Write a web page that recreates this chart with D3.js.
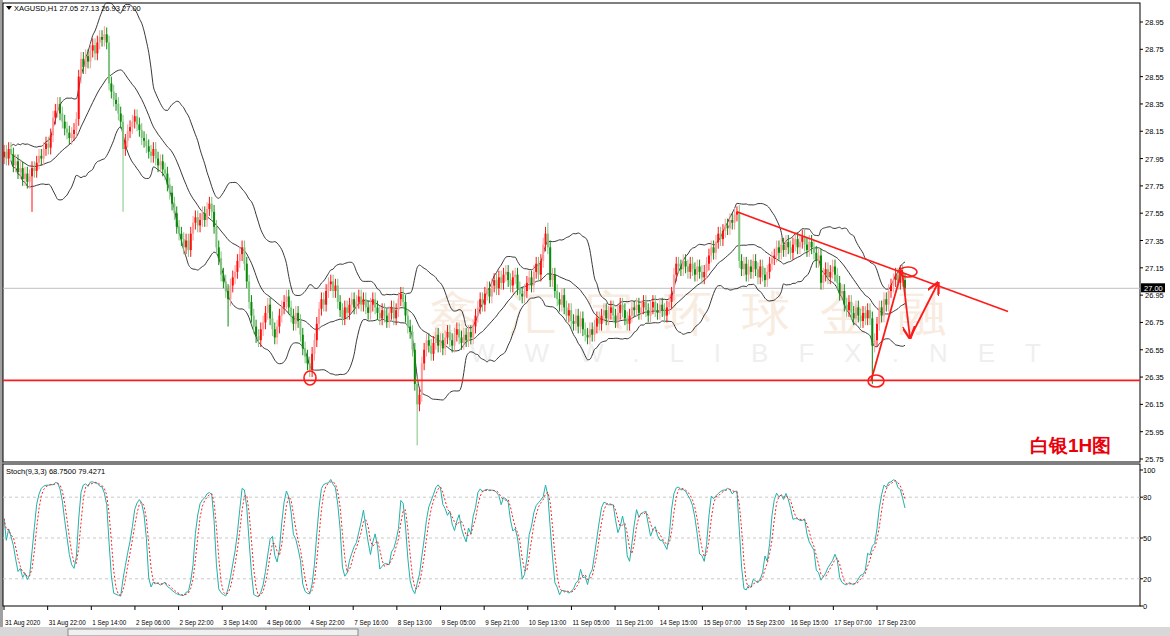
<!DOCTYPE html>
<html><head><meta charset="utf-8">
<script src="https://cdn.jsdelivr.net/npm/d3@7"></script>
<style>
body{margin:0;background:#fff;overflow:hidden}
text{font-family:"Liberation Sans",Arial,sans-serif}
</style></head><body>
<svg id="chart" width="1170" height="636"></svg>
<script>
// hourly closes, XAGUSD H1
const closes = [
28.00,27.95,28.02,27.98,27.90,27.93,27.85,27.88,27.80,27.84,
27.78,27.82,27.88,27.86,27.92,27.97,27.95,28.02,28.06,28.03,
28.12,28.25,28.30,28.35,28.28,28.22,28.17,28.14,28.10,28.13,
28.16,28.24,28.55,28.68,28.62,28.70,28.66,28.74,28.78,28.72,
28.80,28.84,28.82,28.86,28.80,28.50,28.44,28.38,28.35,28.28,
28.22,28.02,28.08,28.15,28.18,28.22,28.26,28.20,28.16,28.10,
28.08,28.04,28.00,27.97,28.02,27.95,27.90,27.93,27.87,27.84,
27.76,27.70,27.62,27.55,27.45,27.40,27.36,27.30,27.35,27.28,
27.40,27.48,27.52,27.46,27.50,27.55,27.50,27.58,27.62,27.56,
27.45,27.30,27.22,27.10,27.05,26.98,26.92,27.02,27.08,27.12,
27.20,27.25,27.30,27.18,27.05,26.90,26.80,26.72,26.65,26.62,
26.70,26.75,26.82,26.88,26.78,26.70,26.64,26.72,26.80,26.86,
26.90,26.94,26.86,26.80,26.74,26.82,26.76,26.66,26.56,26.50,
26.45,26.40,26.52,26.62,26.74,26.85,26.92,26.88,26.98,27.03,
27.05,26.98,27.02,26.90,26.84,26.78,26.86,26.82,26.88,26.92,
26.86,26.90,26.94,26.88,26.92,26.86,26.82,26.88,26.92,26.86,
26.82,26.78,26.84,26.80,26.76,26.82,26.86,26.78,26.84,26.92,
26.96,26.90,26.80,26.72,26.68,26.55,26.30,26.15,26.22,26.45,
26.55,26.62,26.58,26.52,26.60,26.66,26.58,26.62,26.56,26.64,
26.68,26.62,26.58,26.66,26.70,26.64,26.60,26.66,26.62,26.68,
26.64,26.72,26.80,26.86,26.92,26.88,26.96,27.00,26.94,27.02,
27.06,27.00,27.08,27.04,27.10,27.12,27.06,27.02,27.08,27.10,
27.00,26.96,26.94,26.98,27.04,27.08,27.02,27.12,27.18,27.10,
27.20,27.32,27.40,27.30,27.06,27.10,26.98,26.92,26.88,26.95,
26.86,26.80,26.84,26.76,26.74,26.80,26.72,26.78,26.70,26.66,
26.64,26.70,26.66,26.72,26.78,26.74,26.80,26.84,26.78,26.82,
26.86,26.80,26.76,26.82,26.88,26.84,26.78,26.74,26.80,26.86,
26.84,26.88,26.82,26.86,26.90,26.84,26.80,26.86,26.90,26.84,
26.82,26.88,26.84,26.80,26.86,26.90,26.96,27.10,27.18,27.16,
27.14,27.20,27.16,27.12,27.18,27.14,27.10,27.16,27.12,27.08,
27.12,27.18,27.24,27.30,27.26,27.34,27.40,27.36,27.42,27.46,
27.44,27.50,27.48,27.54,27.56,27.20,27.14,27.18,27.10,27.16,
27.12,27.20,27.14,27.08,27.16,27.10,27.06,27.12,27.18,27.22,
27.24,27.30,27.26,27.32,27.28,27.34,27.30,27.26,27.32,27.36,
27.30,27.34,27.38,27.32,27.28,27.34,27.30,27.26,27.20,27.24,
27.04,27.10,27.14,27.08,27.12,27.16,27.10,27.04,26.96,26.98,
26.88,26.84,26.90,26.82,26.78,26.86,26.80,26.76,26.82,26.78,
26.84,26.78,26.58,26.62,26.74,26.86,26.80,26.92,26.88,26.98,
27.02,27.06,27.10,27.04,27.12,27.06,27.00
];
const firstOpen = 27.96;
// long wicks that stand out
const spikes = [
  {i: 12, low: 27.56}, {i: 43, high: 28.92}, {i: 51, low: 27.56},
  {i: 96, low: 26.72}, {i: 177, low: 25.85}, {i: 233, high: 27.48},
  {i: 314, high: 27.60}, {i: 372, low: 26.30}, {i: 131, low: 26.35}
];
const dateLabels = ["31 Aug 2020","31 Aug 22:00","1 Sep 14:00","2 Sep 06:00","2 Sep 22:00",
  "3 Sep 14:00","4 Sep 06:00","4 Sep 22:00","7 Sep 16:00","8 Sep 13:00","9 Sep 05:00",
  "9 Sep 21:00","10 Sep 13:00","11 Sep 05:00","11 Sep 21:00","14 Sep 15:00","15 Sep 07:00",
  "15 Sep 23:00","16 Sep 15:00","17 Sep 07:00","17 Sep 23:00"];
const labelStep = 18.7; // bars between date labels in this series
const priceTicks = d3.range(0, 17).map(k => +(28.95 - k * 0.2).toFixed(2));
const stochLevels = [80, 50, 20];
const supportLevel = 26.326;

const svg = d3.select("#chart");
const W = 1140, mainTop = 3, mainBot = 462, stTop = 464, stBot = 606;

const x = d3.scaleLinear().domain([0, 386]).range([4, 905]);
const y = d3.scaleLinear().domain([25.75, 28.95]).range([459, 22]);
const ys = d3.scaleLinear().domain([0, 100]).range([606, 470]);

// build candles
const bars = closes.map((c, i) => {
  const o = i === 0 ? firstOpen : closes[i - 1];
  return {i, o, c, h: Math.max(o, c) + 0.05, l: Math.min(o, c) - 0.05};
});
spikes.forEach(s => {
  if (s.low) bars[s.i].l = s.low;
  if (s.high) bars[s.i].h = s.high;
});

// frame
svg.append("rect").attr("x", 0).attr("y", 0).attr("width", 1170).attr("height", 636).attr("fill", "#fff");
svg.append("rect").attr("x", 0).attr("y", 0).attr("width", 3).attr("height", 628).attr("fill", "#a0a0a0");
svg.append("rect").attr("x", 0).attr("y", 627).attr("width", 1170).attr("height", 9).attr("fill", "#d8d8d8");
svg.append("rect").attr("x", 68).attr("y", 629).attr("width", 290).attr("height", 7).attr("fill", "#f0f0f0").attr("stroke", "#888");
[[3, mainTop, W - 3, mainBot - mainTop], [3, stTop, W - 3, stBot - stTop]].forEach(r =>
  svg.append("rect").attr("x", r[0]).attr("y", r[1]).attr("width", r[2]).attr("height", r[3])
    .attr("fill", "none").attr("stroke", "#000").attr("stroke-width", 1));

// watermark
svg.append("text").attr("x", 430).attr("y", 330).attr("font-size", 48).attr("fill", "#f8ebdf")
  .attr("letter-spacing", 30).attr("font-family", "Noto Sans CJK SC").text("鑫汇宝环球金融");
svg.append("text").attr("x", 470).attr("y", 362).attr("font-size", 26).attr("fill", "#efefef")
  .attr("letter-spacing", 30).text("WWW.LIBFX.NET");

// current price line
svg.append("line").attr("x1", 3).attr("x2", W).attr("y1", y(27.0)).attr("y2", y(27.0)).attr("stroke", "#c0c0c0");

// bollinger (20, 2)
const bb = bars.map((b, i) => {
  const win = closes.slice(Math.max(0, i - 19), i + 1);
  const m = d3.mean(win), sd = Math.sqrt(d3.mean(win, v => (v - m) ** 2));
  return {i, m, u: m + 2 * sd, d: m - 2 * sd};
}).slice(3);
["m", "u", "d"].forEach(k =>
  svg.append("path").datum(bb).attr("fill", "none").attr("stroke", "#222").attr("stroke-width", 0.9)
    .attr("d", d3.line().x(d => x(d.i)).y(d => Math.max(mainTop, y(d[k]))).curve(d3.curveMonotoneX)));

// candles
const col = d => d.c >= d.o ? (d.i % 2 ? "#ff9a9a" : "#ff1010") : (d.i % 2 ? "#7fc47f" : "#0a8a0a");
const g = svg.append("g");
g.selectAll("line").data(bars).join("line")
  .attr("x1", d => x(d.i)).attr("x2", d => x(d.i))
  .attr("y1", d => y(d.h)).attr("y2", d => y(d.l))
  .attr("stroke", col).attr("stroke-width", 1);
g.selectAll("rect").data(bars).join("rect")
  .attr("x", d => x(d.i) - 1).attr("width", 2)
  .attr("y", d => y(Math.max(d.o, d.c))).attr("height", d => Math.max(1, Math.abs(y(d.o) - y(d.c))))
  .attr("fill", col);

// annotations
const red = "#ff1a1a";
svg.append("line").attr("x1", 3).attr("x2", W).attr("y1", y(supportLevel)).attr("y2", y(supportLevel))
  .attr("stroke", red).attr("stroke-width", 1.6);
svg.append("line").attr("x1", x(314)).attr("y1", y(27.56)).attr("x2", 1008).attr("y2", y(26.83))
  .attr("stroke", red).attr("stroke-width", 1.6);
[[310, 378, 6, 7], [876, 381, 8, 6], [908, 272, 9, 5]].forEach(e =>
  svg.append("ellipse").attr("cx", e[0]).attr("cy", e[1]).attr("rx", e[2]).attr("ry", e[3])
    .attr("fill", "none").attr("stroke", red).attr("stroke-width", 1.6));
svg.append("defs").append("marker").attr("id", "ah").attr("viewBox", "0 0 10 10").attr("refX", 9).attr("refY", 5)
  .attr("markerWidth", 7).attr("markerHeight", 7).attr("orient", "auto")
  .append("path").attr("d", "M0,0 L10,5 L0,10").attr("fill", "none").attr("stroke", red).attr("stroke-width", 1.8);
svg.append("path").attr("d", "M871,381 L902,270").attr("stroke", red).attr("stroke-width", 1.8).attr("fill", "none");
svg.append("path").attr("d", "M902,270 L910,338").attr("stroke", red).attr("stroke-width", 1.8).attr("fill", "none").attr("marker-end", "url(#ah)");
svg.append("path").attr("d", "M910,338 L938,283").attr("stroke", red).attr("stroke-width", 1.8).attr("fill", "none").attr("marker-end", "url(#ah)");
svg.append("text").attr("x", 1030).attr("y", 452).attr("font-size", 19).attr("font-weight", "bold")
  .attr("fill", "#e8000b").attr("font-family", "Noto Sans CJK SC").text("白银1H图");

// header
svg.append("path").attr("d", "M6,6 L12,6 L9,10 Z").attr("fill", "#000");
svg.append("text").attr("x", 14).attr("y", 11).attr("font-size", 7.5).text("XAGUSD,H1  27.05 27.13 26.93 27.00");

// price axis
const pa = svg.append("g").attr("font-size", 7.5);
priceTicks.forEach(p => {
  pa.append("line").attr("x1", W).attr("x2", W + 3).attr("y1", y(p)).attr("y2", y(p)).attr("stroke", "#000");
  pa.append("text").attr("x", W + 5).attr("y", y(p) + 3).text(p.toFixed(2));
});
pa.append("rect").attr("x", W + 1).attr("y", y(27) - 5).attr("width", 24).attr("height", 9).attr("fill", "#000");
pa.append("text").attr("x", W + 4).attr("y", y(27) + 3).attr("fill", "#fff").text("27.00");

// stochastic (9,3,3)
const rawK = bars.map((b, i) => {
  const w = bars.slice(Math.max(0, i - 8), i + 1);
  return {hi: d3.max(w, d => d.h), lo: d3.min(w, d => d.l), c: b.c};
});
const K = rawK.map((r, i) => {
  const w = rawK.slice(Math.max(0, i - 2), i + 1);
  const num = d3.sum(w, d => d.c - d.lo), den = d3.sum(w, d => d.hi - d.lo);
  return den ? 100 * num / den : 50;
});
const D = K.map((v, i) => d3.mean(K.slice(Math.max(0, i - 2), i + 1)));
stochLevels.forEach(l =>
  svg.append("line").attr("x1", 3).attr("x2", W).attr("y1", ys(l)).attr("y2", ys(l))
    .attr("stroke", "#c8c8c8").attr("stroke-dasharray", "3,3"));
const sl = d3.line().x((d, i) => x(i)).y(d => ys(d));
svg.append("path").datum(K).attr("d", sl).attr("fill", "none").attr("stroke", "#20b2aa").attr("stroke-width", 1);
svg.append("path").datum(D).attr("d", sl).attr("fill", "none").attr("stroke", "#ff2020").attr("stroke-width", 1).attr("stroke-dasharray", "2,2");
svg.append("text").attr("x", 6).attr("y", 474).attr("font-size", 7.5)
  .text("Stoch(9,3,3) 68.7500 79.4271");
const sa = svg.append("g").attr("font-size", 7.5);
[100, 80, 50, 20, 0].forEach(l => {
  sa.append("line").attr("x1", W).attr("x2", W + 3).attr("y1", ys(l)).attr("y2", ys(l)).attr("stroke", "#000");
  sa.append("text").attr("x", W + 3).attr("y", Math.min(ys(l) + 3, 615)).text(l);
});

// time axis
const ta = svg.append("g").attr("font-size", 6.3);
dateLabels.forEach((t, k) => {
  const xx = x(k * labelStep);
  ta.append("line").attr("x1", xx).attr("x2", xx).attr("y1", stBot).attr("y2", stBot + 4).attr("stroke", "#000");
  ta.append("text").attr("x", xx + 1).attr("y", stBot + 19).text(t);
});
</script></body></html>
